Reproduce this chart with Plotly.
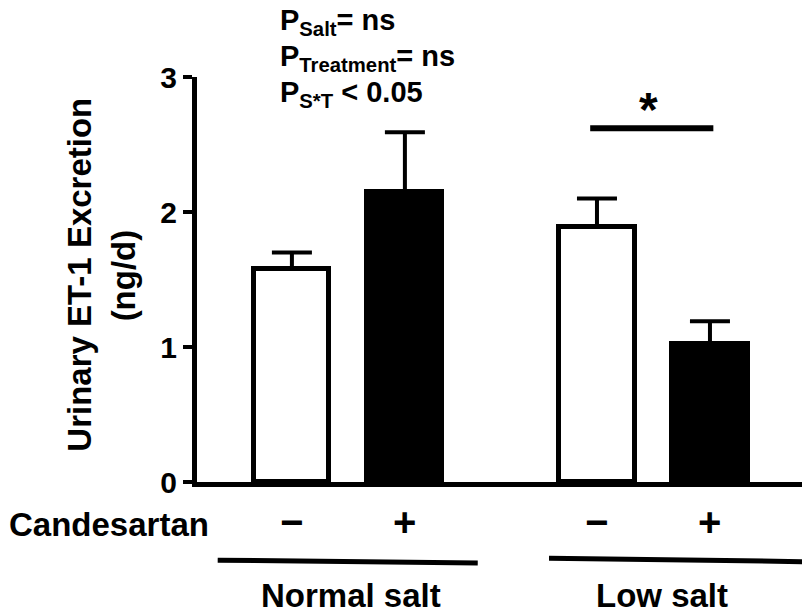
import plotly.graph_objects as go

# ---- data ----
groups = ["Normal salt", "Low salt"]
treatment = ["−", "+", "−", "+"]
positions = [0.0, 1.0, 2.7, 3.7]
values = [1.58, 2.15, 1.89, 1.02]
errors = [0.12, 0.44, 0.21, 0.17]
bar_colors = ["white", "black", "white", "black"]
y_ticks = [0, 1, 2, 3]
stats_lines = ["P<sub>Salt</sub>= ns", "P<sub>Treatment</sub>= ns", "P<sub>S*T</sub> &lt; 0.05"]

FONT = "Liberation Sans, Arial, Helvetica, sans-serif"

fig = go.Figure()
fig.add_trace(go.Bar(
    x=positions, y=values, width=0.665,
    marker=dict(color=bar_colors, line=dict(color="black", width=5)),
    error_y=dict(type="data", symmetric=False, array=errors,
                 arrayminus=[0] * len(errors), color="black",
                 thickness=4, width=20),
    showlegend=False, hoverinfo="skip",
))

annotations = []
# treatment signs
for xp, t in zip(positions, treatment):
    annotations.append(dict(x=xp, xref="x", y=-0.098, yref="paper", text=f"<b>{t}</b>",
                            showarrow=False, font=dict(size=40, family=FONT, color="black"),
                            xanchor="center", yanchor="middle"))
annotations.append(dict(x=-0.312, xref="paper", y=-0.105, yref="paper", text="<b>Candesartan</b>",
                        showarrow=False, font=dict(size=33, family=FONT, color="black"),
                        xanchor="left", yanchor="middle"))
# group labels
for gx, g in zip([0.253, 0.764], groups):
    annotations.append(dict(x=gx, xref="paper", y=-0.281, yref="paper", text=f"<b>{g}</b>",
                            showarrow=False, font=dict(size=33, family=FONT, color="black"),
                            xanchor="center", yanchor="middle"))
# y-axis title (two lines)
annotations.append(dict(x=-0.193, xref="paper", y=0.513, yref="paper", text="<b>Urinary ET-1 Excretion</b>",
                        showarrow=False, textangle=-90, font=dict(size=33, family=FONT, color="black"),
                        xanchor="center", yanchor="middle"))
annotations.append(dict(x=-0.12, xref="paper", y=0.51, yref="paper", text="<b>(ng/d)</b>",
                        showarrow=False, textangle=-90, font=dict(size=33, family=FONT, color="black"),
                        xanchor="center", yanchor="middle"))
# stats text
for i, s in enumerate(stats_lines):
    annotations.append(dict(x=0.133, xref="paper", y=1.136 - i * 0.089, yref="paper", text=f"<b>{s}</b>",
                            showarrow=False, font=dict(size=29, family=FONT, color="black"),
                            xanchor="left", yanchor="middle"))
# significance asterisk
annotations.append(dict(x=(positions[2] + positions[3]) / 2 - 0.04, xref="x", y=2.55, yref="y",
                        text="<b>*</b>", showarrow=False,
                        font=dict(size=48, family=FONT, color="black"),
                        xanchor="center", yanchor="bottom"))

shapes = [
    dict(type="line", xref="x", yref="y", x0=2.64, x1=3.73, y0=2.62, y1=2.62,
         line=dict(color="black", width=6)),
    dict(type="line", xref="paper", yref="paper", x0=0.034, x1=0.461, y0=-0.193, y1=-0.2,
         line=dict(color="black", width=5)),
    dict(type="line", xref="paper", yref="paper", x0=0.578, x1=1.01, y0=-0.188, y1=-0.197,
         line=dict(color="black", width=5)),
]

fig.update_layout(
    width=802, height=607,
    margin=dict(l=189, r=4, t=69, b=133),
    paper_bgcolor="white", plot_bgcolor="white",
    annotations=annotations, shapes=shapes,
    bargap=0,
    xaxis=dict(range=[-0.84, 4.55], showgrid=False, zeroline=False, showline=True,
               linecolor="black", linewidth=5, showticklabels=False, ticks=""),
    yaxis=dict(range=[0, 3], tickvals=y_ticks, ticktext=[f"<b>{v}</b>" for v in y_ticks],
               showgrid=False, zeroline=False, showline=True, linecolor="black", linewidth=5,
               ticks="outside", ticklen=9, tickwidth=4, tickcolor="black",
               tickfont=dict(size=30, family=FONT, color="black")),
)

fig.write_html("out.html")
